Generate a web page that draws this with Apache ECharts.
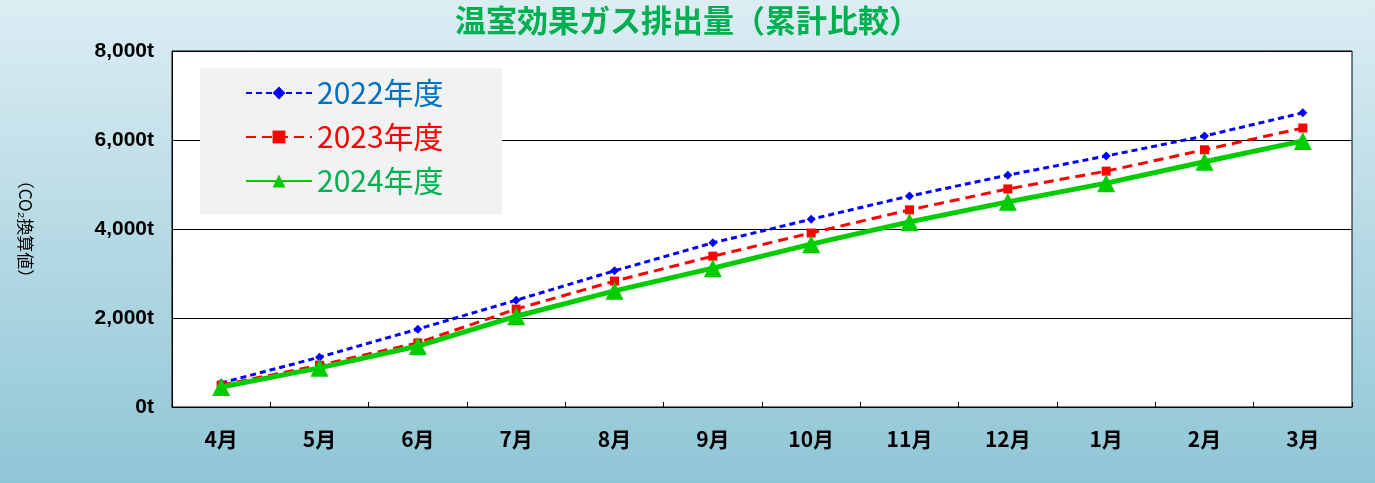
<!DOCTYPE html><html><head><meta charset="utf-8">
<script src="https://cdn.jsdelivr.net/npm/echarts@6/dist/echarts.min.js"></script>
<style>html,body{margin:0;padding:0}#c{width:1375px;height:483px;background:linear-gradient(#dcedf3,#8fc6d6)}</style></head><body><div id="c"></div><script>
const categories=['4月','5月','6月','7月','8月','9月','10月','11月','12月','1月','2月','3月'];
const s2022=[540,1120,1750,2400,3060,3690,4220,4740,5210,5640,6090,6610];
const s2023=[490,940,1440,2200,2830,3390,3910,4430,4900,5300,5780,6270];
const s2024=[450,880,1370,2040,2610,3120,3660,4160,4610,5030,5510,5980];
const yTicks=[0,2000,4000,6000,8000];
const c=echarts.init(document.getElementById('c'));
const F='"Noto Sans CJK JP",sans-serif';
c.setOption({
title:{text:'温室効果ガス排出量（累計比較）',left:'center',top:0,textStyle:{color:'#00b050',fontSize:31,fontWeight:'bold',fontFamily:F}},
grid:{left:172,right:23,top:51,bottom:76,show:true,backgroundColor:'#fff',borderColor:'#000',borderWidth:1},
graphic:[{type:'rect',shape:{x:200,y:68,width:302,height:146},style:{fill:'#f2f2f2'},z:1}],
legend:{left:240,top:73,orient:'vertical',itemGap:14,itemWidth:66,itemHeight:16,z:5,
 textStyle:{fontSize:30,fontFamily:F},
 data:[{name:'2022年度',textStyle:{color:'#0070c0'}},{name:'2023年度',textStyle:{color:'#ff0000'}},{name:'2024年度',textStyle:{color:'#00b050'}}]},
xAxis:{type:'category',data:categories,boundaryGap:true,axisTick:{show:true,inside:true,alignWithLabel:false},axisLine:{lineStyle:{color:'#000'}},
 axisLabel:{color:'#000',fontSize:21,fontWeight:'bold',margin:22,fontFamily:F}},
yAxis:{type:'value',min:0,max:8000,interval:2000,
 name:'（CO₂換算値）',nameLocation:'middle',nameRotate:-90,nameGap:138,nameTextStyle:{fontSize:17,fontFamily:F,color:'#000'},
 axisLine:{show:true,lineStyle:{color:'#000'}},axisTick:{show:true,inside:true},splitLine:{lineStyle:{color:'#000'}},
 axisLabel:{color:'#000',fontSize:21,fontWeight:'bold',margin:18,fontFamily:'Liberation Sans',formatter:v=>v.toLocaleString('en-US')+'t'}},
series:[
{name:'2022年度',type:'line',data:s2022,symbol:'diamond',symbolSize:9,itemStyle:{color:'#0000ff'},lineStyle:{color:'#0000ff',width:3,type:[6,4]},z:3},
{name:'2023年度',type:'line',data:s2023,symbol:'rect',symbolSize:9,itemStyle:{color:'#ff0000'},lineStyle:{color:'#ff0000',width:3,type:[10,6]},z:3},
{name:'2024年度',type:'line',data:s2024,symbol:'triangle',symbolSize:18,itemStyle:{color:'#00cc00'},lineStyle:{color:'#00cc00',width:5},z:4}
]});
</script></body></html>
